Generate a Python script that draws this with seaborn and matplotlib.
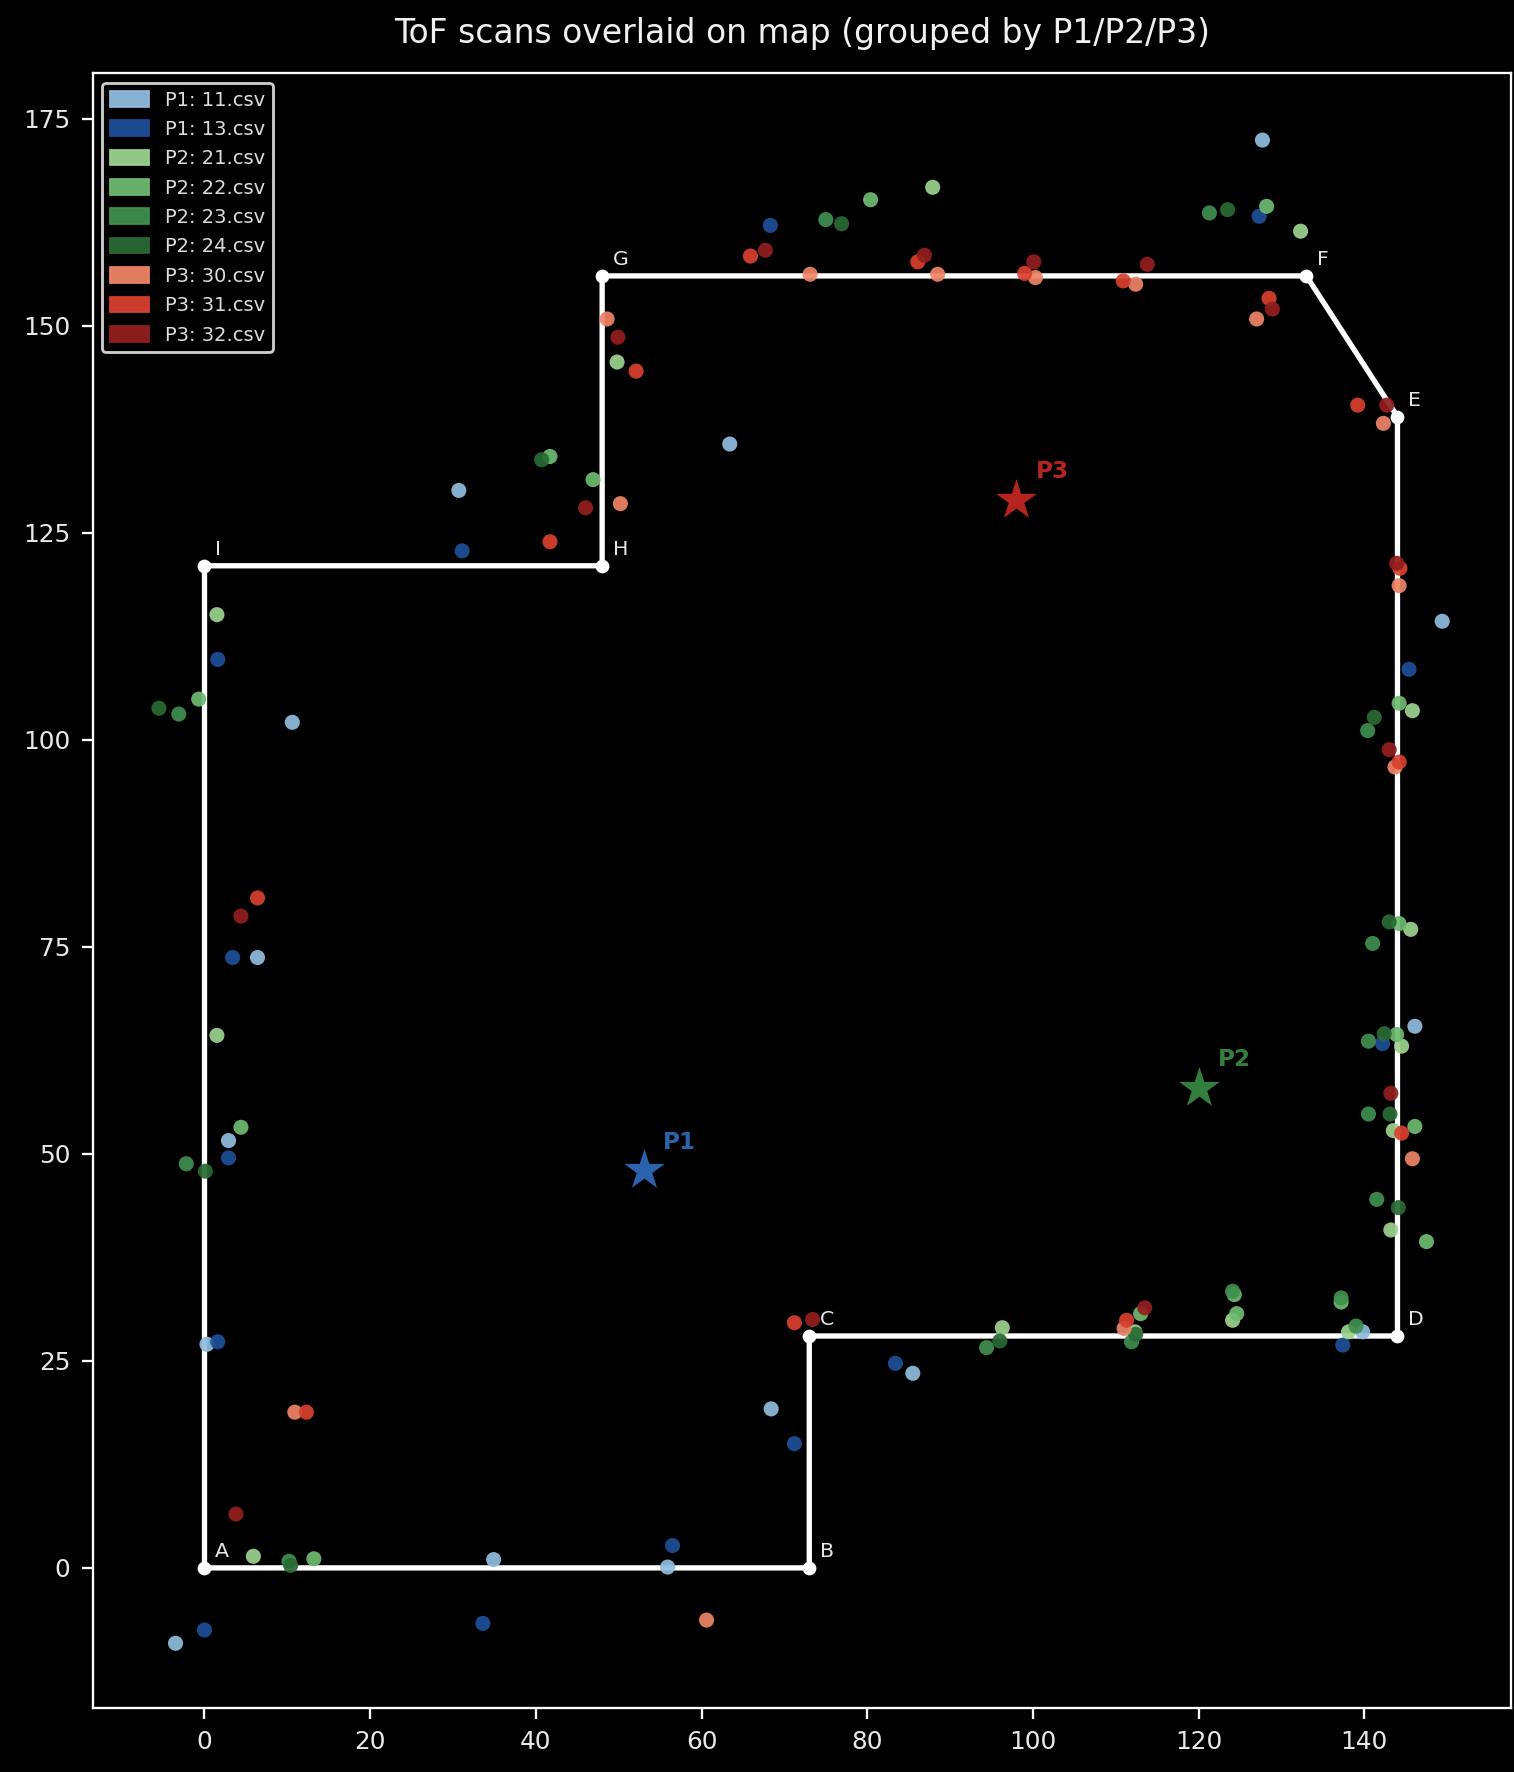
# ToF scans overlaid on the floor map

import pandas as pd
import seaborn as sns
import matplotlib
matplotlib.use("Agg")
from matplotlib import pyplot as plt
from matplotlib.patches import Patch

# map outline
corner_names = ["A", "B", "C", "D", "E", "F", "G", "H", "I"]
corner_x = [0, 73, 73, 144, 144, 133, 48, 48, 0]
corner_y = [0, 0, 28, 28, 139, 156, 156, 121, 121]

# scanner positions
pos_names = ["P1", "P2", "P3"]
pos_x = [53, 120, 98]
pos_y = [48, 58, 129]
pos_colors = ["#2a62ad", "#337f40", "#b5241f"]

# one pair of lists per csv
x_11 = [127.7, 63.4, 30.7, 10.6, 149.4, 146.1, 6.4, 2.9, 0.3, 34.9, 55.9, -3.5, 68.4, 85.5, 139.8]
y_11 = [172.4, 135.7, 130.1, 102.1, 114.3, 65.4, 73.7, 51.6, 27.0, 1.0, 0.1, -9.1, 19.2, 23.5, 28.5]
x_13 = [68.3, 127.3, 31.1, 1.6, 145.4, 3.4, 142.2, 2.9, 1.6, 56.5, 33.6, 0.0, 71.2, 83.4, 137.4]
y_13 = [162.1, 163.2, 122.8, 109.7, 108.5, 73.7, 63.3, 49.5, 27.3, 2.7, -6.7, -7.5, 15.0, 24.7, 26.9]
x_21 = [87.9, 132.3, 49.8, 1.5, 1.5, 145.8, 145.6, 144.5, 143.5, 143.2, 124.1, 138.1, 112.3, 96.3, 5.9]
y_21 = [166.7, 161.4, 145.6, 115.1, 64.3, 103.5, 77.1, 63.0, 52.8, 40.8, 29.9, 28.5, 28.5, 29.0, 1.4]
x_22 = [80.4, 128.2, 46.9, 41.7, -0.7, 144.2, 144.2, 4.4, 143.9, 146.1, 147.5, 124.6, 113.0, 13.2, 137.2, 124.3]
y_22 = [165.2, 164.4, 131.4, 134.2, 104.9, 104.4, 77.8, 53.2, 64.4, 53.3, 39.4, 30.7, 30.7, 1.1, 32.1, 33.0]
x_23 = [75.0, 121.3, -3.1, 140.4, 141.0, 140.5, 140.5, 141.5, 124.1, 137.2, 139.0, 94.4, 111.9, 10.2, -2.2]
y_23 = [162.8, 163.6, 103.1, 101.1, 75.4, 63.6, 54.8, 44.5, 33.4, 32.6, 29.2, 26.6, 27.3, 0.8, 48.8]
x_24 = [76.9, 123.5, 40.7, -5.5, 141.2, 143.0, 142.4, 143.1, 144.1, 96.0, 0.1, 112.4, 10.4]
y_24 = [162.3, 164.0, 133.8, 103.8, 102.7, 78.0, 64.5, 54.8, 43.5, 27.4, 47.9, 28.2, 0.3]
x_30 = [48.6, 73.1, 88.5, 100.3, 112.4, 127.0, 142.3, 50.2, 144.2, 143.7, 145.8, 10.9, 60.6, 111.0]
y_30 = [150.8, 156.2, 156.2, 155.8, 155.0, 150.8, 138.2, 128.5, 118.6, 96.7, 49.4, 18.8, -6.3, 28.9]
x_31 = [52.1, 65.9, 86.1, 99.0, 110.9, 128.5, 139.2, 41.7, 144.3, 144.2, 6.4, 144.5, 12.3, 71.2, 111.3]
y_31 = [144.5, 158.4, 157.7, 156.3, 155.4, 153.3, 140.4, 123.9, 120.7, 97.3, 80.9, 52.5, 18.8, 29.6, 29.9]
x_32 = [49.9, 67.7, 86.9, 100.1, 113.8, 128.9, 142.7, 46.0, 143.9, 143.0, 4.4, 143.2, 3.8, 73.4, 113.5]
y_32 = [148.6, 159.1, 158.5, 157.7, 157.4, 152.0, 140.4, 128.0, 121.3, 98.8, 78.7, 57.3, 6.5, 30.0, 31.4]

scan_names = ["P1: 11.csv", "P1: 13.csv", "P2: 21.csv", "P2: 22.csv", "P2: 23.csv",
              "P2: 24.csv", "P3: 30.csv", "P3: 31.csv", "P3: 32.csv"]
scan_colors = ["#8fbcdd", "#1f4e98", "#9bd28e", "#6dba70", "#3f8f4f",
               "#2a6a34", "#ee8467", "#d8402f", "#931e1e"]
scan_x = [x_11, x_13, x_21, x_22, x_23, x_24, x_30, x_31, x_32]
scan_y = [y_11, y_13, y_21, y_22, y_23, y_24, y_30, y_31, y_32]

frames = []
for name, xs, ys in zip(scan_names, scan_x, scan_y):
    frames.append(pd.DataFrame({"x": xs, "y": ys, "scan": name}))
scans_df = pd.concat(frames, ignore_index=True)

walls_df = pd.DataFrame({"x": corner_x + corner_x[:1], "y": corner_y + corner_y[:1]})

plt.style.use("dark_background")
sns.set_style("ticks", {"axes.facecolor": "black", "figure.facecolor": "black",
                        "axes.edgecolor": "white", "text.color": "white",
                        "xtick.color": "white", "ytick.color": "white",
                        "axes.labelcolor": "white", "font.family": ["DejaVu Sans"]})

fig, ax = plt.subplots(figsize=(1514 / 128, 1772 / 128), dpi=128)
fig.subplots_adjust(left=0.0612, right=0.998, top=0.9588, bottom=0.0362)

# walls first so the scan points sit on top
ax.plot("x", "y", data=walls_df, color="white", linewidth=3, zorder=2)
sns.scatterplot(x=corner_x, y=corner_y, color="white", s=60, linewidth=0, ax=ax, zorder=3)

for name, cx, cy in zip(corner_names, corner_x, corner_y):
    ax.annotate(name, (cx, cy), xytext=(6, 6), textcoords="offset points",
                color="#e6e6e6", fontsize=11.5)

sns.scatterplot(data=scans_df, x="x", y="y", hue="scan", hue_order=scan_names,
                palette=scan_colors, s=72, alpha=0.93, linewidth=0, legend=False,
                ax=ax, zorder=4)

for name, px, py, col in zip(pos_names, pos_x, pos_y, pos_colors):
    sns.scatterplot(x=[px], y=[py], color=col, marker="*", s=580, linewidth=0, ax=ax, zorder=5)
    ax.annotate(name, (px, py), xytext=(11, 12), textcoords="offset points",
                color=col, fontsize=13, fontweight="bold")

ax.set_xlim(-13.5, 157.7)
ax.set_ylim(-16.9, 180.5)
ax.set_xticks(range(0, 141, 20))
ax.set_yticks(range(0, 176, 25))
ax.tick_params(labelsize=13.9, length=6.2, width=1.3, pad=6.2, labelcolor="#e8e8e8")
for side in ax.spines.values():
    side.set_linewidth(1.3)
ax.set_xlabel("")
ax.set_ylabel("")
ax.set_title("ToF scans overlaid on map (grouped by P1/P2/P3)", color="#f0f0f0", fontsize=18.6, pad=17)

handles = [Patch(facecolor=c, edgecolor=c, alpha=0.95, label=n) for n, c in zip(scan_names, scan_colors)]
leg = ax.legend(handles=handles, loc="upper left", fontsize=11, frameon=True, facecolor="black",
                edgecolor="white", framealpha=0.8, labelcolor="#dddddd", borderaxespad=0.5,
                labelspacing=0.53, handleheight=0.85)
leg.get_frame().set_linewidth(1.6)

plt.savefig("out.png", dpi=128, facecolor="black")
